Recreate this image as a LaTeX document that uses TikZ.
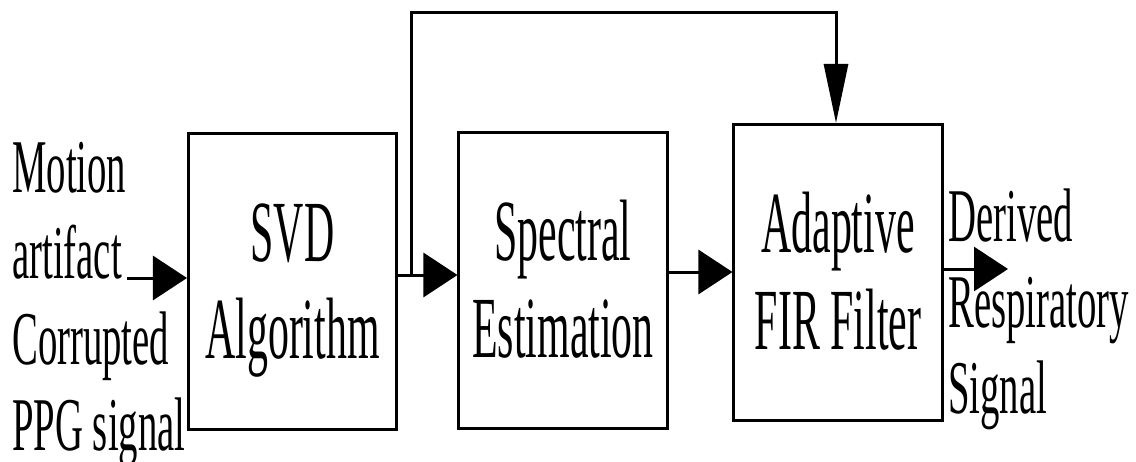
\documentclass[tikz,border=0pt]{standalone}
\usepackage{fontspec}
\setmainfont[FakeStretch=0.51]{Liberation Serif}
\newfontfamily\blockfont[FakeStretch=0.48]{Liberation Serif}
\usetikzlibrary{arrows.meta}

\begin{document}
\begin{tikzpicture}[x=0.025cm, y=-0.025cm,
	block/.style={draw, line width=0.075cm, minimum width=5.2cm, minimum height=7.4cm, inner sep=0pt, align=center, text height=110pt, text depth=0pt, font=\blockfont\fontsize{62}{69}\selectfont},
	label/.style={inner sep=0pt, align=left, font=\fontsize{54}{61}\selectfont},
	flow/.style={line width=0.075cm, -{Triangle[length=0.85cm, width=1.1cm]}},
	feed/.style={line width=0.075cm, -{Triangle[length=1.475cm, width=0.6cm]}}]
	\useasboundingbox (0,0) rectangle (1136,461);
	
	% blocks
	\node[block] (svd)  at (292.5, 281.5) {SVD\\Algorithm};
	\node[block] (spec) at (563.0, 280.5) {Spectral\\Estimation};
	\node[block] (fir)  at (838.0, 272.5) {Adaptive\\FIR Filter};
	
	% side texts (anchored at last baseline)
	\node[label, anchor=base west] (inlbl)  at (12, 450) {Motion\\artifact\\Corrupted\\PPG signal};
	\node[label, anchor=base west] (outlbl) at (948, 413) {Derived\\Respiratory\\Signal};
	
	\coordinate (in)  at (127, 278);
	\coordinate (tap) at (411, 275);
	\coordinate (top) at (836, 12);
	\coordinate (mid) at (700, 272);
	\coordinate (out) at (1008, 269);
	
	\draw[flow] (in) -- (in -| svd.west);
	\draw[flow] (svd.east |- tap) -- (spec.west |- tap);
	\draw[flow] (spec.east |- mid) -- (fir.west |- mid);
	\draw[flow] (fir.east |- out) -- (out);
	\draw[feed] (tap) |- (top) -- (top |- fir.north);
	
\end{tikzpicture}
\end{document}
